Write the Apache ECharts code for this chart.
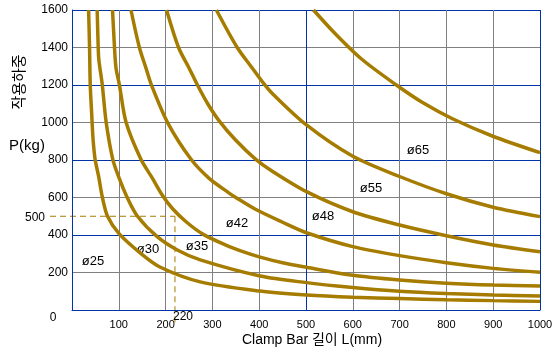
<!DOCTYPE html>
<html><head><meta charset="utf-8">
<script src="https://cdn.jsdelivr.net/npm/echarts@6/dist/echarts.min.js"></script>
<style>html,body{margin:0;padding:0;background:#fff}#c{width:558px;height:349px}</style>
</head><body><div id="c"></div>
<script>
const xTicks = [0,100,200,300,400,500,600,700,800,900,1000];
const yTicks = [0,200,400,600,800,1000,1200,1400,1600];
const curveNames = ['ø25','ø30','ø35','ø42','ø48','ø55','ø65'];
const L25 = [35.5,37.5,39,42,44,46,49.6,57,65,76,100,147,189,274,402,501,600,700,800,900,1000];
const P25 = [1600,1400,1200,1050,950,880,800,711,600,500,409,302,228,150,101,80,68,61,55,50,46];
const L30 = [53.8,56,57.4,64.5,73,87,101,118,140,182,225,274,402,501,600,700,800,900,1000];
const P30 = [1600,1400,1333,1205,1001,805,702,600,500,391,320,267,181,146,120,100,88,80,75];
const L35 = [86.6,90.8,94,101,115.5,147,172,193,215,245,281.5,330,366.7,402,450,501,600,700,800,900,1000];
const P35 = [1600,1400,1291,1205,1001,805,702,612,540,468,402,345,310,282,252,228,185,160,143,133,128];
const L42 = [126,144,158,169,204,254,293,335,350,392,450,501,600,700,800,900,1000];
const P42 = [1600,1400,1291,1205,1001,805,702,625,600,537,468,412,338,290,252,222,201];
const L48 = [202,227.7,250,268,290,314,350,392,428,501,600,700,800,900,1000];
const P48 = [1600,1400,1291,1200,1100,1010,905,805,740,631,524,453,396,347,311];
const L55 = [308.5,353,385,406,428,501,600,700,800,900,1000];
const P55 = [1600,1400,1291,1220,1155,987,820,712,620,548,498];
const L65 = [516,560,618,693,750,813,898,1000];
const P65 = [1600,1480,1340,1200,1105,1020,928,839];
const refL = 220, refP = 500;

const Ls = [L25,L30,L35,L42,L48,L55,L65];
const Ps = [P25,P30,P35,P42,P48,P55,P65];
const GOLD = '#a67c00', BLUE = '#0033a8', GRAY = '#808080';
const FONT = '"Liberation Sans","Noto Sans CJK KR",sans-serif';

const chart = echarts.init(document.getElementById('c'), null, {renderer:'canvas'});
const series = curveNames.map((n,i)=>({
  name:n, type:'line', showSymbol:false, smooth:0.3, silent:true,
  lineStyle:{color:GOLD, width:3.5},
  data: Ls[i].map((l,j)=>[l, Ps[i][j]])
}));
chart.setOption({
  animation:false,
  grid:{left:72, right:18, top:10, bottom:39, containLabel:false},
  xAxis:{type:'value', min:xTicks[0], max:xTicks[xTicks.length-1], interval:100,
    axisLine:{show:true, lineStyle:{color:BLUE, width:1}}, axisTick:{show:false},
    axisLabel:{color:'#000', fontSize:11, fontFamily:FONT, margin:9,
      formatter:v=> v===0 ? '' : String(v)},
    splitLine:{show:true, showMinLine:true, showMaxLine:true,
      lineStyle:{color:[BLUE,GRAY,GRAY,GRAY,GRAY], width:1}}},
  yAxis:{type:'value', min:yTicks[0], max:yTicks[yTicks.length-1], interval:200,
    axisLine:{show:true, lineStyle:{color:BLUE, width:1}}, axisTick:{show:false},
    axisLabel:{color:'#000', fontSize:12, fontFamily:FONT, margin:4,
      formatter:v=> v===0 ? '' : String(v)},
    splitLine:{show:true, showMinLine:true, showMaxLine:true,
      lineStyle:{color:[BLUE,GRAY], width:1}}},
  series: series
});

const p = chart.convertToPixel({gridIndex:0}, [refL, refP]);
const p0 = chart.convertToPixel({gridIndex:0}, [0, 0]);
const txt = (x,y,t,size,extra)=>Object.assign({type:'text', x:x, y:y, silent:true,
  style:{text:t, fill:'#000', font:size+'px '+FONT, textAlign:'center', textVerticalAlign:'middle'}}, extra||{});
chart.setOption({graphic:[
  {type:'line', silent:true, shape:{x1:50, y1:p[1], x2:p[0], y2:p[1]},
   style:{stroke:GOLD, lineWidth:1, lineDash:[6,4]}},
  {type:'line', silent:true, shape:{x1:p[0], y1:p[1], x2:p[0], y2:p0[1]+14},
   style:{stroke:GOLD, lineWidth:1, lineDash:[6,4]}},
  txt(35, p[1]+1, String(refP), 12),
  txt(183, 317, String(refL), 12),
  txt(53, 318, '0', 12),
  txt(27, 146, 'P(kg)', 15),
  txt(20, 82, '작용하중', 15, {rotation:Math.PI/2}),
  txt(312, 340, 'Clamp Bar 길이 L(mm)', 14),
  txt(93, 261, curveNames[0], 13),
  txt(148, 249, curveNames[1], 13),
  txt(197, 246, curveNames[2], 13),
  txt(237, 223, curveNames[3], 13),
  txt(323, 216, curveNames[4], 13),
  txt(371, 188, curveNames[5], 13),
  txt(418, 150, curveNames[6], 13)
]});
</script></body></html>
